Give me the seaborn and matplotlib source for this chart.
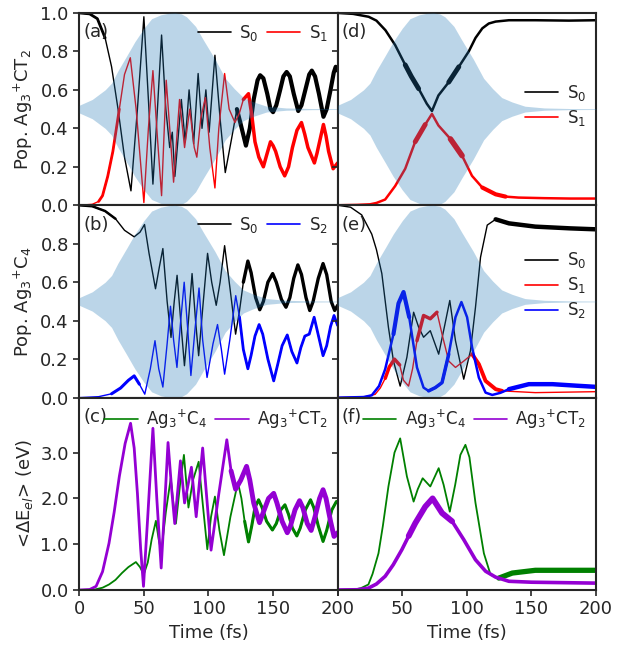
import matplotlib
matplotlib.use("Agg")
import matplotlib.pyplot as plt
import seaborn as sns

# ---- pulse envelope (half width around 0.5), read from the shaded area
env_t = [0, 10, 20, 25, 30, 37, 43, 50, 56, 63, 69, 74, 79, 83, 90, 96, 105,
         113, 120, 127, 135, 145, 160, 180, 200]
env_a = [0.02, 0.05, 0.10, 0.135, 0.20, 0.28, 0.35, 0.42, 0.47, 0.49, 0.498,
         0.5, 0.495, 0.48, 0.43, 0.36, 0.26, 0.16, 0.106, 0.06, 0.037, 0.015,
         0.006, 0.003, 0.002]

# ---- (a) Ag3+CT2, population
a_s0_t = [0, 8, 14, 20, 25, 30, 35, 40, 45, 50, 53.5, 57, 60.5, 63.7, 67, 70,
          72, 74, 79, 82, 85, 88.5, 92, 95, 98, 100.5, 105, 109, 113, 118, 122,
          125, 129, 132, 135, 138, 140, 142.5, 145.5, 148, 150, 152.5, 155.5,
          158, 160.5, 163, 166, 169.5, 172, 175, 178, 180, 182.5, 185.5, 189,
          191.5, 194.5, 197, 198.5, 200]
a_s0 = [1.0, 0.995, 0.97, 0.87, 0.72, 0.5, 0.25, 0.075, 0.5, 0.98, 0.55, 0.11,
        0.5, 0.885, 0.5, 0.30, 0.38, 0.15, 0.55, 0.33, 0.60, 0.32, 0.685, 0.40,
        0.60, 0.38, 0.78, 0.45, 0.17, 0.35, 0.5, 0.42, 0.31, 0.4, 0.55, 0.65,
        0.676, 0.66, 0.58, 0.5, 0.484, 0.52, 0.6, 0.67, 0.693, 0.67, 0.58, 0.49,
        0.52, 0.6, 0.68, 0.70, 0.67, 0.58, 0.46, 0.5, 0.6, 0.69, 0.72, 0.70]
a_s1_t = [0, 10, 15, 18, 22, 26, 31, 35, 39.5, 44, 50, 53.5, 57, 60.5, 63.7,
          67.3, 70, 73, 77.6, 81.5, 85.5, 89, 91, 94, 97.6, 101, 105, 108,
          112.5, 116, 120.5, 124, 127, 131, 133.5, 136, 139, 142.5, 145, 148,
          150, 152, 155.5, 159, 162, 165, 168.5, 172, 174.5, 177, 182, 184, 186,
          189, 191, 193, 196.5, 200]
a_s1 = [0.0, 0.005, 0.02, 0.05, 0.15, 0.28, 0.5, 0.68, 0.767, 0.5, 0.014, 0.4,
        0.70, 0.35, 0.05, 0.65, 0.4, 0.12, 0.55, 0.3, 0.5, 0.3, 0.25, 0.45,
        0.56, 0.3, 0.09, 0.4, 0.685, 0.5, 0.43, 0.48, 0.55, 0.58, 0.47, 0.33,
        0.25, 0.2, 0.26, 0.33, 0.31, 0.28, 0.2, 0.153, 0.2, 0.3, 0.39, 0.43,
        0.37, 0.3, 0.22, 0.27, 0.33, 0.42, 0.36, 0.28, 0.19, 0.22]

# ---- (b) Ag3+C4, population
b_s0_t = [0, 10, 20, 28, 35, 42.5, 47, 50.5, 54, 59, 62, 64.7, 68, 71, 73.5,
          75.7, 78.5, 81.4, 84.5, 87.3, 90, 92.4, 96, 99.3, 102.5, 106, 109,
          112.5, 117, 121, 124, 127, 130.5, 133, 136.5, 139.7, 142.5, 146, 149.7,
          152.5, 156.5, 160, 163, 166, 169.2, 172, 175.5, 178.4, 181, 185, 188.7,
          191.5, 195, 197.7, 200]
b_s0 = [1.0, 0.995, 0.97, 0.93, 0.87, 0.836, 0.86, 0.90, 0.75, 0.566, 0.68,
        0.775, 0.5, 0.313, 0.5, 0.636, 0.4, 0.166, 0.4, 0.645, 0.4, 0.218, 0.5,
        0.75, 0.6, 0.48, 0.6, 0.79, 0.55, 0.33, 0.45, 0.6, 0.71, 0.65, 0.52,
        0.457, 0.5, 0.6, 0.645, 0.6, 0.51, 0.47, 0.52, 0.62, 0.69, 0.64, 0.52,
        0.453, 0.5, 0.62, 0.697, 0.64, 0.5, 0.453, 0.48]
b_s2_t = [0, 15, 25, 32, 38, 42.5, 46.5, 50.7, 55, 58.6, 61.5, 64.7, 68, 70.6,
          73, 75.6, 78.5, 81.2, 84, 86.4, 89.5, 92.7, 95.5, 98.9, 103.5, 107,
          110, 112.5, 116.5, 121.1, 124, 127, 130.5, 133, 136, 139.2, 142, 146,
          150.5, 153.5, 157, 161, 164.5, 168.5, 171.5, 174.6, 178, 181.8, 184.5,
          188.7, 191.5, 194.5, 197.2, 200]
b_s2 = [0.0, 0.005, 0.02, 0.05, 0.09, 0.113, 0.07, 0.018, 0.15, 0.296, 0.15,
        0.055, 0.28, 0.475, 0.3, 0.157, 0.4, 0.60, 0.35, 0.115, 0.35, 0.57, 0.3,
        0.105, 0.28, 0.38, 0.25, 0.122, 0.3, 0.53, 0.42, 0.25, 0.15, 0.22, 0.32,
        0.38, 0.33, 0.2, 0.087, 0.17, 0.27, 0.326, 0.24, 0.18, 0.26, 0.32, 0.33,
        0.418, 0.34, 0.218, 0.27, 0.37, 0.427, 0.375]

# ---- (c) <dE_el> (eV)
c_c4_t = [0, 12, 18, 23, 28, 33, 38, 43.8, 47, 49.9, 53, 56, 59.3, 61.5, 63.5,
          67, 70.8, 72.8, 74.8, 78, 81, 84.5, 88, 92.4, 95.5, 99.1, 102, 105,
          108.5, 112, 117, 122.8, 125.5, 128, 131, 133.5, 136, 138.8, 141.5,
          145, 149.5, 152.5, 156, 159.2, 162, 165, 168.4, 171, 175, 179, 181.5,
          185, 188.7, 191.5, 195.5, 199, 200]
c_c4 = [0.0, 0.01, 0.05, 0.12, 0.22, 0.37, 0.5, 0.61, 0.5, 0.34, 0.6, 1.1,
        1.51, 1.1, 0.84, 1.7, 2.44, 1.9, 1.45, 2.3, 2.95, 1.8, 2.4, 2.8, 1.9,
        0.89, 1.6, 2.04, 1.3, 0.76, 1.6, 2.35, 2.0, 1.5, 1.05, 1.4, 1.8, 1.97,
        1.8, 1.5, 1.31, 1.45, 1.75, 1.86, 1.65, 1.35, 1.18, 1.35, 1.75, 1.97,
        1.8, 1.4, 1.06, 1.3, 1.75, 1.93, 1.93]
c_ct2_t = [0, 8, 13, 18, 23, 27, 31, 35.5, 39.7, 42.5, 45, 47.5, 49.7, 53, 57,
           60, 63.4, 66, 68.7, 71.5, 73.9, 78.3, 81.5, 86.8, 90.5, 95.5, 99,
           102, 108, 114.2, 117.5, 121, 125, 129.5, 132, 135, 139.5, 142.5,
           146.5, 150.5, 153, 157, 161, 163.5, 167, 170.5, 173, 176.5, 179.5,
           182.5, 186, 188.7, 191, 194.5, 197.2, 200]
c_ct2 = [0.0, 0.01, 0.08, 0.4, 1.02, 1.7, 2.48, 3.2, 3.64, 3.1, 2.11, 0.9,
         0.08, 1.6, 3.53, 2.0, 0.48, 1.8, 3.22, 2.2, 1.45, 2.82, 1.9, 2.68, 1.6,
         3.1, 1.9, 0.87, 2.1, 3.28, 2.6, 2.2, 2.4, 2.7, 2.4, 1.9, 1.47, 1.7,
         2.0, 2.11, 1.9, 1.5, 1.25, 1.4, 1.75, 1.95, 1.8, 1.45, 1.3, 1.6, 2.0,
         2.19, 2.0, 1.5, 1.17, 1.25]

# ---- (d) Ag3+CT2, population (second pulse)
d_s0_t = [0, 12, 24, 30, 37, 44.5, 52.3, 57, 62.7, 69, 73, 78, 86, 93.8, 101.5,
          106.7, 112, 117, 122.3, 132.6, 153, 179, 200]
d_s0 = [1.0, 0.995, 0.98, 0.96, 0.91, 0.833, 0.73, 0.67, 0.606, 0.528, 0.49,
        0.571, 0.64, 0.72, 0.80, 0.87, 0.92, 0.945, 0.955, 0.962, 0.962, 0.96,
        0.962]
d_s1_t = [0, 15, 25, 30, 36.8, 44.5, 52.3, 60, 67.8, 73, 78, 87.3, 96.3, 104,
          112, 122.3, 130, 140, 160, 180, 200]
d_s1 = [0.0, 0.002, 0.005, 0.012, 0.03, 0.1, 0.19, 0.33, 0.42, 0.475, 0.415,
        0.345, 0.258, 0.153, 0.092, 0.057, 0.045, 0.04, 0.037, 0.035, 0.035]

# ---- (e) Ag3+C4, population (second pulse)
e_s0_t = [0, 10, 18.6, 26.4, 30, 34.2, 39.3, 43.2, 48.4, 53.6, 58.8, 62.7,
          66.5, 71.7, 78.2, 83, 86.8, 91.2, 97.6, 102.8, 106.7, 110.6, 115.8,
          122.3, 132.6, 153, 180, 200]
e_s0 = [1.0, 0.99, 0.95, 0.85, 0.77, 0.645, 0.366, 0.19, 0.06, 0.21, 0.444,
        0.366, 0.314, 0.348, 0.226, 0.38, 0.505, 0.296, 0.096, 0.244, 0.47,
        0.73, 0.897, 0.927, 0.906, 0.889, 0.88, 0.875]
e_s1_t = [0, 20, 29, 33, 36.8, 40, 44, 48, 51, 54.9, 58, 61.4, 66.5, 71.7,
          76.9, 80.8, 86, 91.2, 97.6, 104.1, 109.3, 114.5, 122.3, 127.4, 153,
          200]
e_s1 = [0.0, 0.003, 0.017, 0.05, 0.1, 0.16, 0.2, 0.17, 0.09, 0.06, 0.15, 0.296,
        0.427, 0.41, 0.444, 0.33, 0.19, 0.157, 0.19, 0.226, 0.174, 0.087,
        0.044, 0.035, 0.026, 0.031]
e_s2_t = [0, 20, 26.4, 32, 36.8, 43.2, 47.1, 51, 55.4, 61.4, 66.5, 70.4, 75.6,
          80.8, 86, 91.2, 95.8, 100.2, 104.1, 109.3, 114.5, 119.7, 126, 132.6,
          148, 166.3, 185, 200]
e_s2 = [0.0, 0.003, 0.012, 0.06, 0.148, 0.33, 0.49, 0.549, 0.418, 0.157, 0.052,
        0.035, 0.052, 0.078, 0.226, 0.418, 0.497, 0.418, 0.26, 0.104, 0.026,
        0.014, 0.025, 0.044, 0.07, 0.07, 0.062, 0.056]

# ---- (f) <dE_el> (eV) (second pulse)
f_c4_t = [0, 13.4, 18, 23.8, 27, 31.6, 35, 39.3, 44, 48.4, 53.6, 58.8, 62,
          65.8, 71.7, 78.2, 82, 86.8, 91, 95, 98.9, 102, 106.7, 113.2, 118.4,
          124.8, 135.2, 153, 180, 200]
f_c4 = [0.0, 0.01, 0.04, 0.12, 0.35, 0.8, 1.4, 2.26, 3.0, 3.31, 2.48, 1.93,
        2.2, 2.44, 2.26, 2.66, 2.3, 1.71, 2.3, 2.95, 3.17, 2.9, 1.9, 0.8, 0.33,
        0.26, 0.37, 0.43, 0.43, 0.43]
f_ct2_t = [0, 15, 23.8, 30, 36.8, 43, 49.7, 55, 60.1, 67.8, 73.5, 80.8, 88.6,
           97.6, 106.7, 114.5, 122.3, 132.6, 150, 175, 200]
f_ct2 = [0.0, 0.005, 0.04, 0.13, 0.3, 0.55, 0.88, 1.18, 1.46, 1.82, 2.0, 1.68,
         1.5, 1.1, 0.66, 0.41, 0.28, 0.19, 0.17, 0.16, 0.15]

POP_A = r"Pop. Ag$_3$$^{+}$CT$_2$"
POP_B = r"Pop. Ag$_3$$^{+}$C$_4$"
DE_LABEL = r"<$\Delta$E$_{el}$> (eV)"
LAB_C4 = r"Ag$_3$$^{+}$C$_4$"
LAB_CT2 = r"Ag$_3$$^{+}$CT$_2$"
TIME_TICKS = [0, 50, 100, 150, 200]


def draw(ax, t, y, color, label, lw=1.0, thick=()):
    sns.lineplot(x=t, y=y, ax=ax, color=color, lw=lw, label=label,
                 estimator=None, sort=False, zorder=2)
    # high-frequency wobble shows as a wider band on some stretches
    for t0, t1, w in thick:
        idx = [i for i, tv in enumerate(t) if t0 <= tv <= t1]
        sns.lineplot(x=[t[i] for i in idx], y=[y[i] for i in idx], ax=ax,
                     color=color, lw=w, legend=False, estimator=None,
                     sort=False, zorder=2, solid_joinstyle="round",
                     solid_capstyle="round")


def add_pulse(ax):
    lo = [0.5 - a for a in env_a]
    hi = [0.5 + a for a in env_a]
    ax.fill_between(env_t, lo, hi, color="tab:blue", alpha=0.3, lw=0, zorder=3)


sns.set_theme(style="ticks")
plt.rcParams["font.family"] = ["DejaVu Sans"]
plt.rcParams["mathtext.fontset"] = "dejavusans"

fig, axes = plt.subplots(3, 2, figsize=(6.17, 6.46), dpi=100, sharey="row")
fig.subplots_adjust(left=0.1285, right=0.966, top=0.980, bottom=0.0867,
                    wspace=0, hspace=0)

(ax_a, ax_d), (ax_b, ax_e), (ax_c, ax_f) = axes

draw(ax_a, a_s0_t, a_s0, "black", r"S$_0$", 1.0, [(0, 22, 2.0), (120, 200, 3)])
draw(ax_a, a_s1_t, a_s1, "red", r"S$_1$", 1.0, [(12, 31, 2.0), (126, 200, 2.5)])
add_pulse(ax_a)

draw(ax_b, b_s0_t, b_s0, "black", r"S$_0$", 1.0, [(0, 30, 1.8), (127, 200, 2.4)])
draw(ax_b, b_s2_t, b_s2, "blue", r"S$_2$", 1.0, [(25, 47, 2.2), (124, 200, 2)])
add_pulse(ax_b)

draw(ax_c, c_c4_t, c_c4, "green", LAB_C4, 1.3, [(128, 200, 2.2)])
draw(ax_c, c_ct2_t, c_ct2, "darkviolet", LAB_CT2, 2.0, [(117, 200, 3.5)])

draw(ax_d, d_s0_t, d_s0, "black", r"S$_0$", 1.8, [(50, 66, 3.5), (82, 100, 3.5)])
draw(ax_d, d_s1_t, d_s1, "red", r"S$_1$", 1.8,
     [(55, 70, 3.5), (80, 98, 4), (112, 135, 3)])
add_pulse(ax_d)

draw(ax_e, e_s0_t, e_s0, "black", r"S$_0$", 1.0, [(118, 200, 3.2)])
draw(ax_e, e_s1_t, e_s1, "red", r"S$_1$", 1.0,
     [(36, 50, 2.5), (61, 78, 2.5), (100, 128, 2.8)])
draw(ax_e, e_s2_t, e_s2, "blue", r"S$_2$", 1.8,
     [(40, 60, 3), (70, 90, 2.5), (132, 200, 3.2)])
add_pulse(ax_e)

draw(ax_f, f_c4_t, f_c4, "green", LAB_C4, 1.3, [(124, 200, 3.8)])
draw(ax_f, f_ct2_t, f_ct2, "darkviolet", LAB_CT2, 2.6, [(55, 95, 4.2)])

for ax in axes.flat:
    ax.set_xlim(0, 200)
    ax.set_xticks(TIME_TICKS)
    for sp in ax.spines.values():
        sp.set_linewidth(1.5)
        sp.set_visible(True)
    ax.tick_params(labelsize=13, width=1.2, length=4)
    ax.set_xlabel("")
for ax in axes[:2].flat:
    ax.tick_params(labelbottom=False)

for row in axes[:2]:
    for ax in row:
        ax.set_ylim(0, 1.0)
axes[0, 0].set_yticks([0, 0.2, 0.4, 0.6, 0.8, 1.0])
axes[1, 0].set_yticks([0, 0.2, 0.4, 0.6, 0.8])
axes[2, 0].set_ylim(0, 4.2)
axes[2, 0].set_yticks([0, 1, 2, 3])
for ax in axes[:, 0]:
    ax.yaxis.set_major_formatter(matplotlib.ticker.FormatStrFormatter("%.1f"))

ax_f.set_xticklabels(["", "50", "100", "150", "200"])
ax_c.set_xlabel("Time (fs)", fontsize=13)
ax_f.set_xlabel("Time (fs)", fontsize=13)

ax_a.set_ylabel(POP_A, fontsize=13)
ax_b.set_ylabel(POP_B, fontsize=13)
ax_c.set_ylabel(DE_LABEL, fontsize=13)
for ax in axes[:, 1]:
    ax.set_ylabel("")

leg_kw = dict(frameon=False, fontsize=12, handlelength=2.0,
              borderaxespad=0.2, handletextpad=0.5)
ax_a.legend(loc="upper right", ncol=2, columnspacing=0.5, **leg_kw)
ax_b.legend(loc="upper right", ncol=2, columnspacing=0.5, **leg_kw)
ax_c.legend(loc="upper right", ncol=2, columnspacing=0.5, **leg_kw)
ax_f.legend(loc="upper right", ncol=2, columnspacing=0.5, **leg_kw)
ax_d.legend(loc="center right", bbox_to_anchor=(1.0, 0.52),
            labelspacing=0.3, **leg_kw)
ax_e.legend(loc="center right", bbox_to_anchor=(1.0, 0.583),
            labelspacing=0.3, **leg_kw)
for ax in axes.flat:
    for line in ax.get_legend().get_lines():
        line.set_linewidth(1.2)

for ax, tag in zip([ax_a, ax_b, ax_c, ax_d, ax_e, ax_f],
                   ["(a)", "(b)", "(c)", "(d)", "(e)", "(f)"]):
    ax.text(0.015, 0.9, tag, transform=ax.transAxes, fontsize=13,
            ha="left", va="center", zorder=5)

fig.savefig("out.png", dpi=100)
